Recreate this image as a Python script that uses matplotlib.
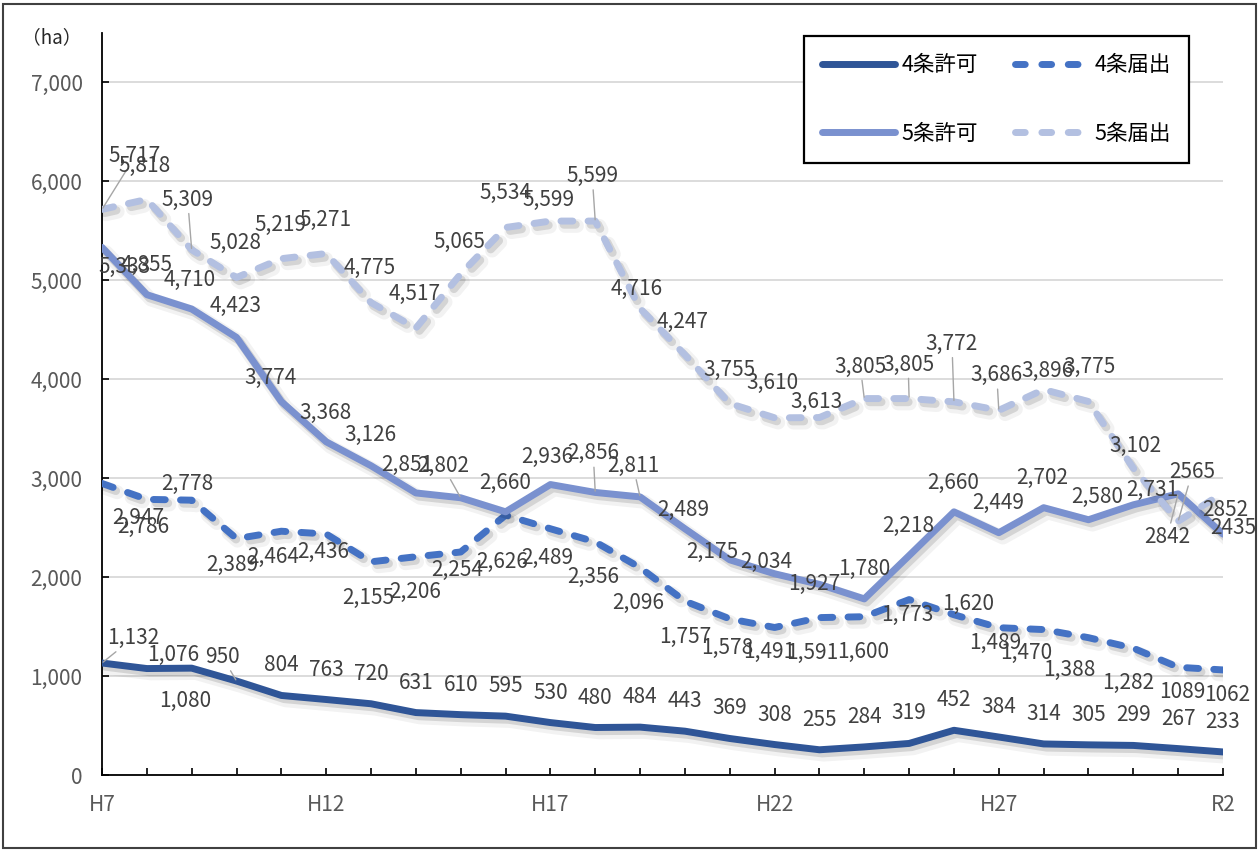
import matplotlib
matplotlib.use('Agg')
import matplotlib.pyplot as plt
import matplotlib.patheffects as pe
from matplotlib.lines import Line2D
from matplotlib.patches import Rectangle

plt.rcParams['font.family'] = ['Noto Sans CJK JP', 'DejaVu Sans']

# 年度 (H7〜R2)
years = ['H7', 'H8', 'H9', 'H10', 'H11', 'H12', 'H13', 'H14', 'H15', 'H16',
         'H17', 'H18', 'H19', 'H20', 'H21', 'H22', 'H23', 'H24', 'H25', 'H26',
         'H27', 'H28', 'H29', 'H30', 'R1', 'R2']
shown_years = ['H7', 'H12', 'H17', 'H22', 'H27', 'R2']

permit4 = [1132, 1076, 1080, 950, 804, 763, 720, 631, 610, 595, 530, 480, 484,
           443, 369, 308, 255, 284, 319, 452, 384, 314, 305, 299, 267, 233]
notice4 = [2947, 2786, 2778, 2389, 2464, 2436, 2155, 2206, 2254, 2626, 2489,
           2356, 2096, 1757, 1578, 1491, 1591, 1600, 1773, 1620, 1489, 1470,
           1388, 1282, 1089, 1062]
permit5 = [5333, 4855, 4710, 4423, 3774, 3368, 3126, 2851, 2802, 2660, 2936,
           2856, 2811, 2489, 2175, 2034, 1927, 1780, 2218, 2660, 2449, 2702,
           2580, 2731, 2842, 2435]
notice5 = [5717, 5818, 5309, 5028, 5219, 5271, 4775, 4517, 5065, 5534, 5599,
           5599, 4716, 4247, 3755, 3610, 3613, 3805, 3805, 3772, 3686, 3896,
           3775, 3102, 2565, 2852]

labels = ['4条許可', '4条届出', '5条許可', '5条届出']
colors = ['#2F5597', '#4472C4', '#7A91CF', '#B3C0E1']

# label nudges in pixels (dx, dy)
off_p4 = [(31, 25), (26, 14), (-6, -33), (-14, 24)] + [(0, 30)] * 22
off_n4 = [(36, -35), (-4, -28), (-4, 16), (-4, -26), (-8, -26), (-3, -18),
          (-3, -36), (-1, -35), (-4, -18), (-3, -47), (-3, -29), (-2, -35),
          (-2, -35), (0, -36), (-3, -29), (-5, -24), (-7, -35), (-1, -35),
          (-2, -15), (14, 11), (-4, -15), (-17, -23), (-19, -32), (-5, -35),
          (4, -25), (4, -25)]
off_p5 = [(23, -20), (0, 30), (-2, 29), (-1, 31), (-11, 24), (-1, 29),
          (-1, 31), (-9, 28), (-18, 32), (0, 29), (-3, 28), (-2, 39),
          (-7, 31), (-2, 19), (-17, 8), (-8, 12), (-5, 0), (0, 30), (-1, 30),
          (-1, 29), (-1, 30), (-1, 30), (9, 23), (19, 15), (-11, -43),
          (10, 6)]
off_n5 = [(33, 53), (-2, 33), (-4, 50), (-1, 35), (-1, 34), (-1, 34),
          (-1, 35), (-1, 34), (-1, 32), (0, 35), (-2, 21), (-3, 45),
          (-3, 19), (-2, 33), (0, 34), (-2, 35), (-3, 16), (-4, 32),
          (-1, 34), (-2, 58), (-2, 35), (4, 19), (1, 35), (2, 22), (14, 49),
          (2, -17)]
leaders = [{0, 3}, set(), {8, 11, 12, 24}, {0, 2, 11, 17, 18, 19, 20, 24}]

series = [permit4, notice4, permit5, notice5]
offsets = [off_p4, off_n4, off_p5, off_n5]
styles = ['-', '--', '-', '--']

fig = plt.figure(figsize=(12.58, 8.5), dpi=100)
ax = fig.add_axes([102 / 1258, 1 - 775 / 850, 1121 / 1258, 742 / 850])

x = list(range(len(years)))
lw = 5


def shadow():
    return [pe.SimpleLineShadow(offset=(3, -3.5), shadow_color='black', alpha=0.05, linewidth=lw + 5),
            pe.SimpleLineShadow(offset=(2, -2.5), shadow_color='black', alpha=0.12, linewidth=lw + 1),
            pe.Normal()]


for vals, col, ls, lab in zip(series, colors, styles, labels):
    line, = ax.plot(x, vals, color=col, lw=lw, ls=ls, label=lab,
                    solid_capstyle='round', dash_capstyle='round',
                    solid_joinstyle='round', dash_joinstyle='round', zorder=3)
    if ls == '--':
        line.set_dashes((1.7, 2.2))
    line.set_path_effects(shadow())

for vals, offs, lead in zip(series, offsets, leaders):
    for i, v in enumerate(vals):
        txt = f'{v:,}' if i < 24 else str(v)
        kw = {}
        if i in lead:
            kw['arrowprops'] = dict(arrowstyle='-', color='#A6A6A6', lw=1,
                                    shrinkA=0, shrinkB=1)
        ax.annotate(txt, (i, v), xytext=offs[i], textcoords='offset pixels',
                    ha='center', va='center', fontsize=15, color='#404040',
                    zorder=5, **kw)

ax.set_xlim(0, len(years) - 1)
ax.set_ylim(0, 7500)
ax.set_xticks(x)
ax.set_xticklabels([y if y in shown_years else '' for y in years])
ax.set_yticks(range(0, 7001, 1000))
ax.set_yticklabels([f'{t:,}' for t in range(0, 7001, 1000)])
ax.tick_params(axis='both', direction='in', length=5, width=1.2,
               labelsize=15, labelcolor='#595959', pad=14)
ax.yaxis.grid(True, color='#D9D9D9', lw=1.3)
ax.set_axisbelow(True)
for s in ['top', 'right']:
    ax.spines[s].set_visible(False)
for s in ['left', 'bottom']:
    ax.spines[s].set_linewidth(1.3)

fig.text(52 / 1258, 1 - 38 / 850, '（ha）', ha='center', va='center',
         fontsize=13.5, color='#262626')

handles = []
for col, ls, lab in zip(colors, styles, labels):
    h = Line2D([], [], color=col, lw=lw, ls=ls, label=lab,
               solid_capstyle='round', dash_capstyle='round')
    if ls == '--':
        h.set_dashes((1.4, 2.4))
    handles.append(h)
order = [0, 2, 1, 3]
leg = ax.legend([handles[k] for k in order], [labels[k] for k in order],
                ncol=2, loc='upper right',
                bbox_to_anchor=(1189 / 1258, 1 - 36 / 850),
                bbox_transform=fig.transFigure, borderaxespad=0,
                fontsize=15.5, frameon=True,
                fancybox=False, framealpha=1, edgecolor='black',
                handlelength=3.4, handletextpad=0.3, columnspacing=1.7,
                labelspacing=2.15, borderpad=0.85)
leg.get_frame().set_linewidth(1.6)
leg.set_zorder(10)

fig.patches.append(Rectangle((3 / 1258, 2 / 850), 1253 / 1258, 844 / 850,
                             transform=fig.transFigure, fill=False,
                             edgecolor='#404040', lw=1.5))

fig.savefig('out.png', dpi=100)
